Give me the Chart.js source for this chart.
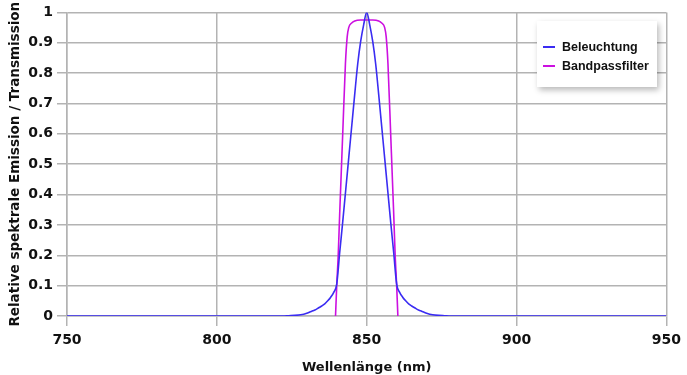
<!DOCTYPE html>
<html>
<head>
<meta charset="utf-8">
<script src="https://cdn.jsdelivr.net/npm/chart.js@4/dist/chart.umd.min.js"></script>
<style>
  html, body { margin: 0; padding: 0; background: #fff; }
  #wrap { position: relative; width: 687px; height: 375px; }
  #legend {
    position: absolute; left: 537px; top: 21px; width: 120px; height: 66px;
    background: #fff; box-shadow: 2px 3px 6px rgba(0,0,0,0.28);
    font-family: "Liberation Sans", Arial, sans-serif; font-weight: bold; font-size: 12.5px; color: #111;
  }
  .item { position: absolute; left: 6px; height: 16px; line-height: 16px; white-space: nowrap; }
  .item span.sw { display: inline-block; width: 12px; height: 2px; vertical-align: middle; margin-right: 7px; position: relative; top: -1px; }
</style>
</head>
<body>
<div id="wrap">
  <canvas id="c" width="687" height="375"></canvas>
  <div id="legend"></div>
</div>
<script>
// Beleuchtung (illumination emission)
const beleuchtungX = [750, 822, 824, 826, 828, 829, 830, 831, 832, 833, 834, 835, 836, 837, 838, 839, 840, 841, 842, 843, 844, 845, 846, 847, 848, 849, 850,
                      851, 852, 853, 854, 855, 856, 857, 858, 859, 860, 861, 862, 863, 864, 865, 866, 867, 868, 869, 870, 871, 872, 874, 876, 878, 950];
const beleuchtungY = [0, 0, 0.001, 0.002, 0.004, 0.006, 0.009, 0.013, 0.017, 0.021, 0.027, 0.033, 0.04, 0.05, 0.062, 0.078, 0.105, 0.21, 0.31, 0.415, 0.52, 0.625, 0.73, 0.83, 0.905, 0.96, 1,
                      0.96, 0.905, 0.83, 0.73, 0.625, 0.52, 0.415, 0.31, 0.21, 0.105, 0.078, 0.062, 0.05, 0.04, 0.033, 0.027, 0.021, 0.017, 0.013, 0.009, 0.006, 0.004, 0.002, 0.001, 0, 0];
// Bandpassfilter (transmission)
const bandpassX = [839.6, 840, 840.5, 841, 842, 842.9, 843.5, 844, 845, 846, 848, 850, 852, 854, 855, 856, 856.5, 857.1, 858, 859, 859.5, 860, 860.4];
const bandpassY = [0, 0.1, 0.2, 0.34, 0.6, 0.83, 0.92, 0.95, 0.965, 0.972, 0.975, 0.975, 0.975, 0.972, 0.965, 0.95, 0.92, 0.83, 0.6, 0.34, 0.2, 0.1, 0];

const seriesNames = ["Beleuchtung", "Bandpassfilter"];
const seriesColors = ["#3a2cf2", "#cc10e0"];
const xTicks = [750, 800, 850, 900, 950];
const yTicks = [0, 0.1, 0.2, 0.3, 0.4, 0.5, 0.6, 0.7, 0.8, 0.9, 1];

const toPts = (xs, ys) => xs.map((x, i) => ({ x: x, y: ys[i] }));

const FONT = "'DejaVu Sans', Verdana, sans-serif";
const GRID = "#b3b3b3";

new Chart(document.getElementById('c'), {
  type: 'scatter',
  data: {
    datasets: [
      { label: seriesNames[0], data: toPts(beleuchtungX, beleuchtungY), borderColor: seriesColors[0], backgroundColor: seriesColors[0],
        showLine: true, pointRadius: 0, borderWidth: 1.6, tension: 0.2, cubicInterpolationMode: 'monotone' },
      { label: seriesNames[1], data: toPts(bandpassX, bandpassY), borderColor: seriesColors[1], backgroundColor: seriesColors[1],
        showLine: true, pointRadius: 0, borderWidth: 1.6, cubicInterpolationMode: 'monotone' }
    ]
  },
  options: {
    responsive: false,
    animation: false,
    layout: { padding: { top: 8, right: 19, left: 0, bottom: 0 } },
    plugins: { legend: { display: false }, tooltip: { enabled: false } },
    scales: {
      x: {
        type: 'linear', min: 750, max: 950,
        afterBuildTicks: s => { s.ticks = xTicks.map(v => ({ value: v })); },
        afterFit: s => { s.height = 59; },
        grid: { color: GRID, lineWidth: 1.5, tickLength: 10, drawTicks: true },
        border: { color: GRID, width: 1.5 },
        ticks: { color: '#111', font: { family: FONT, weight: 'bold', size: 14 }, padding: 6, maxRotation: 0 },
        title: { display: true, text: 'Wellenlänge (nm)', color: '#111', font: { family: FONT, weight: 'bold', size: 13 }, padding: { top: 2, bottom: 0 } }
      },
      y: {
        min: 0, max: 1,
        afterBuildTicks: s => { s.ticks = yTicks.map(v => ({ value: v })); },
        afterFit: s => { s.width = 67; },
        grid: { color: GRID, lineWidth: 1.5, tickLength: 10, drawTicks: true },
        border: { color: GRID, width: 1.5 },
        ticks: { color: '#111', font: { family: FONT, weight: 'bold', size: 14 }, padding: 4,
                 callback: v => (v === 0 || v === 1) ? String(v) : v.toFixed(1) },
        title: { display: true, text: 'Relative spektrale Emission / Transmission', color: '#111', font: { family: FONT, weight: 'bold', size: 13.5 }, padding: { top: 7, bottom: 2 } }
      }
    }
  }
});

const lg = document.getElementById('legend');
seriesNames.forEach((n, i) => {
  const d = document.createElement('div');
  d.className = 'item';
  d.style.top = (18 + i * 19) + 'px';
  d.innerHTML = '<span class="sw" style="background:' + seriesColors[i] + '"></span>' + n;
  lg.appendChild(d);
});
</script>
</body>
</html>
